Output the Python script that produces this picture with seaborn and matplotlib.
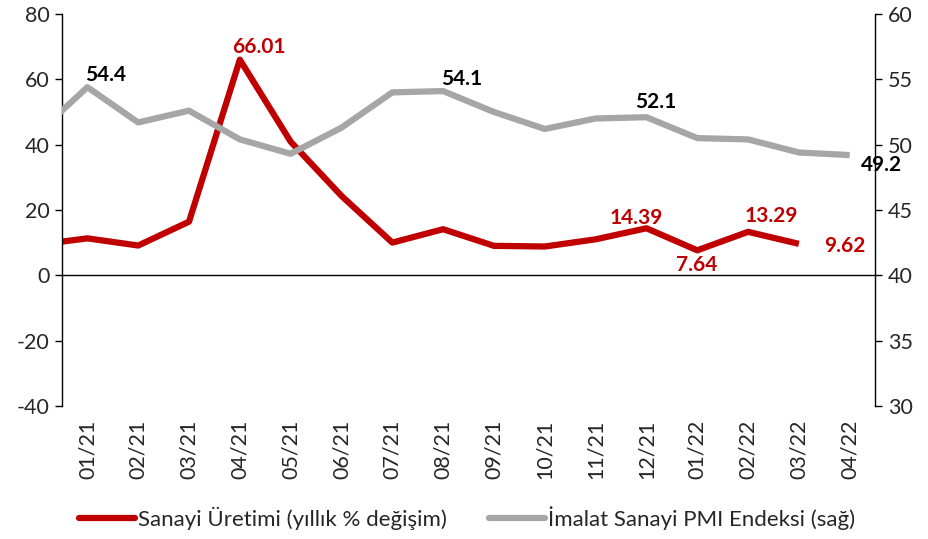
import matplotlib
matplotlib.use('Agg')
import matplotlib.pyplot as plt
import numpy as np
import pandas as pd
import seaborn as sns

# veriler
months = ['12/20', '01/21', '02/21', '03/21', '04/21', '05/21', '06/21', '07/21',
          '08/21', '09/21', '10/21', '11/21', '12/21', '01/22', '02/22', '03/22', '04/22']
sanayi_uretimi = [9.3, 11.3, 9.1, 16.4, 66.01, 40.9, 24.3, 10.0,
                  14.1, 9.0, 8.8, 11.0, 14.39, 7.64, 13.29, 9.62, np.nan]
pmi = [50.8, 54.4, 51.7, 52.6, 50.4, 49.3, 51.3, 54.0,
       54.1, 52.5, 51.2, 52.0, 52.1, 50.5, 50.4, 49.4, 49.2]

# etiketler: (ay, yazı, x ofset, y ofset)
uretim_labels = [('04/21', '66.01', 13.7, 9.4), ('12/21', '14.39', -7.2, 7.4),
                 ('01/22', '7.64', -0.7, -10.6), ('02/22', '13.29', 16.6, 11.1),
                 ('03/22', '9.62', 33, -1.2)]
pmi_labels = [('01/21', '54.4', 13, 8.7), ('08/21', '54.1', 13, 8.7),
              ('12/21', '52.1', 6.5, 11.3), ('04/22', '49.2', 23, -7.5)]

RED = '#C00000'
GRAY = '#A6A6A6'

sns.set_style('white')
plt.rcParams['font.family'] = ['Lato', 'DejaVu Sans']
plt.rcParams['font.size'] = 15
plt.rcParams['axes.unicode_minus'] = False

df = pd.DataFrame({'ay': months, 'uretim': sanayi_uretimi, 'pmi': pmi})
df['pos'] = np.arange(len(df)) - 0.5
pos_of = dict(zip(df['ay'], df['pos']))

fig, ax = plt.subplots(figsize=(9.29, 5.39), dpi=100)
fig.subplots_adjust(left=0.0667, right=0.942, top=0.974, bottom=0.247)
ax2 = ax.twinx()

sns.lineplot(data=df, x='pos', y='uretim', ax=ax, color=RED, linewidth=4.5,
             legend=False, solid_capstyle='butt')
sns.lineplot(data=df, x='pos', y='pmi', ax=ax2, color=GRAY, linewidth=4.5,
             legend=False, solid_capstyle='butt')

ax.set_xlim(0, 16)
ax.set_ylim(-40, 80)
ax2.set_ylim(30, 60)
ax.set_yticks(range(-40, 81, 20))
ax2.set_yticks(range(30, 61, 5))
ax.set_xlabel('')
ax.set_ylabel('')
ax2.set_ylabel('')

# eksen çizgileri
for s in ['top', 'right']:
    ax.spines[s].set_visible(False)
for s in ['top', 'left', 'bottom']:
    ax2.spines[s].set_visible(False)
ax.spines['bottom'].set_position(('data', 0))
for sp in [ax.spines['left'], ax.spines['bottom'], ax2.spines['right']]:
    sp.set_color('black')
    sp.set_linewidth(1.0)

ax.set_xticks(np.arange(0, 17))
ax.set_xticklabels([])
ax.tick_params(axis='x', direction='out', length=5, width=1, color='black')
ax.tick_params(axis='y', left=True, direction='out', length=5, width=1,
               color='black', labelsize=15.5, pad=4)
ax2.tick_params(axis='y', right=True, direction='out', length=5, width=1,
                color='black', labelsize=15.5, pad=4)

# alt etiketler
sec = ax.secondary_xaxis('bottom')
sec.set_xticks(df['pos'][1:], labels=df['ay'][1:])
sec.tick_params(axis='x', length=0, pad=10, labelrotation=90, labelsize=15.5)
for s in sec.spines.values():
    s.set_visible(False)

for ay, txt, dx, dy in uretim_labels:
    ax.annotate(txt, xy=(pos_of[ay], df.loc[df['ay'] == ay, 'uretim'].iloc[0]),
                xytext=(dx, dy), textcoords='offset points', ha='center', va='center',
                fontsize=15, fontweight='bold', color=RED)
for ay, txt, dx, dy in pmi_labels:
    ax2.annotate(txt, xy=(pos_of[ay], df.loc[df['ay'] == ay, 'pmi'].iloc[0]),
                 xytext=(dx, dy), textcoords='offset points', ha='center', va='center',
                 fontsize=15, fontweight='bold', color='black')

handles = [plt.Line2D([], [], color=RED, linewidth=4.5),
           plt.Line2D([], [], color=GRAY, linewidth=4.5)]
labels = ['Sanayi Üretimi (yıllık % değişim)', 'İmalat Sanayi PMI Endeksi (sağ)']
fig.legend(handles, labels, loc='center', bbox_to_anchor=(0.503, 0.039), ncol=2,
           frameon=False, fontsize=16, handlelength=2.5, handletextpad=0.15,
           columnspacing=1.9)

fig.savefig('out.png', dpi=100)
